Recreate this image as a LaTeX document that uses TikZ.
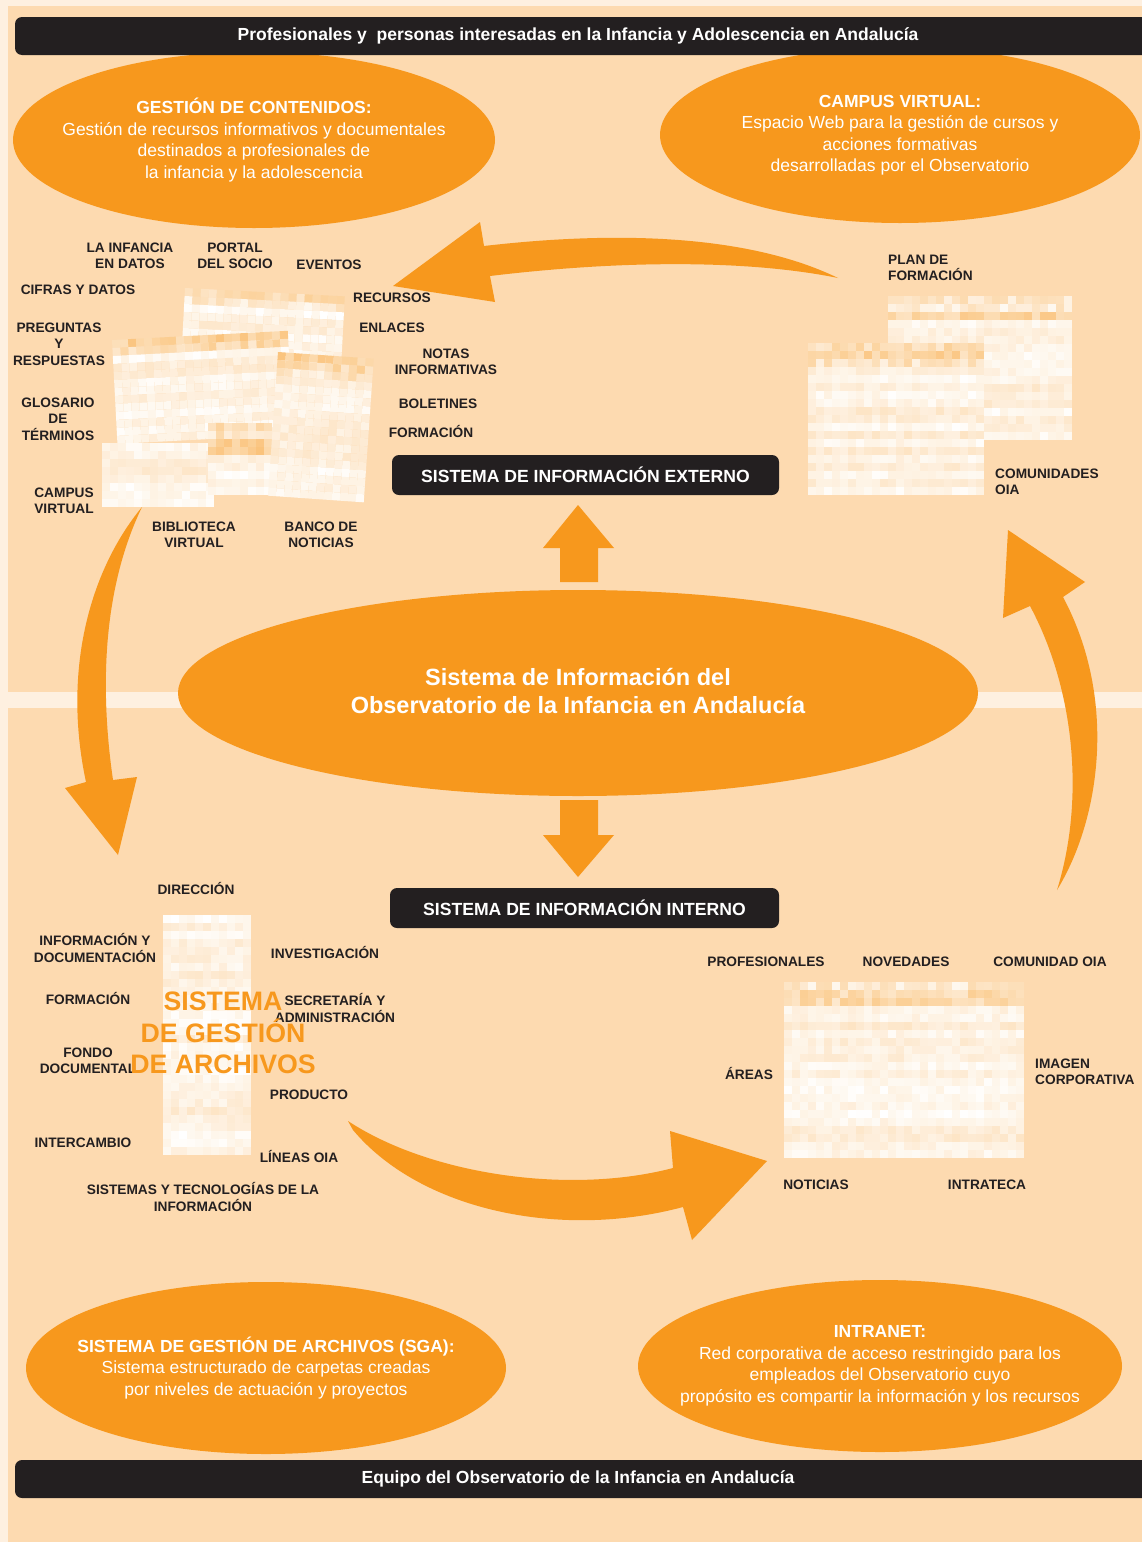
\documentclass[tikz,border=0pt]{standalone}
\usepackage{fontspec}
\setmainfont{Liberation Sans}
\usetikzlibrary{shapes.geometric}
\definecolor{oiaorange}{HTML}{F7981D}
\definecolor{oiapeach}{HTML}{FDDAB0}
\definecolor{oiacream}{HTML}{FEF0E0}
\definecolor{oiadark}{HTML}{231F20}
\tikzset{blob/.style={fill=oiaorange,draw=none}}
\tikzset{bigarrow/.style={fill=oiaorange,draw=none}}
\tikzset{darkbar/.style={fill=oiadark,rounded corners=7pt}}
\tikzset{bartext/.style={text=white,font=\bfseries\fontsize{17.5}{20}\selectfont,inner sep=0pt}}
\tikzset{darkbox/.style={fill=oiadark,rounded corners=7pt,text=white,minimum height=40pt,
    font=\bfseries\fontsize{17.6}{20}\selectfont,inner sep=0pt}}
\tikzset{blobtext/.style={text=white,align=center,inner sep=0pt,font=\fontsize{17.5}{21.5}\selectfont}}
\tikzset{lbl/.style={text=oiadark,align=center,inner sep=0pt,font=\bfseries\fontsize{13.7}{16.5}\selectfont}}
% pixelated web page thumbnail: corner, columns, rows, cell size, seed, header rows
\newcommand{\webshot}[6]{%
  \begin{scope}[shift={#1}]
    \pgfmathsetseed{#5}
    \foreach \j in {1,...,#3}{
      \pgfmathtruncatemacro{\tmax}{\j<=#6 ? 60 : 26}
      \pgfmathrandominteger{\rt}{0}{\tmax}
      \foreach \i in {1,...,#2}{
        \pgfmathrandominteger{\ct}{0}{\tmax}
        \pgfmathtruncatemacro{\t}{0.55*\rt+0.45*\ct}
        \fill[oiaorange!\t!white] ({(\i-1)*#4},{(\j-1)*#4}) rectangle ++(#4,#4);
      }}
  \end{scope}}

\begin{document}
\begin{tikzpicture}[x=1pt,y=-1pt]
  \useasboundingbox (0,0) rectangle (1142,1542);
  \clip (0,0) rectangle (1142,1542);
  % background and the two bands
  \fill[oiacream] (0,0) rectangle (1142,1542);
  \fill[oiapeach] (8,6) rectangle (1142,692);
  \fill[oiapeach] (8,708) rectangle (1142,1542);

  \coordinate (gc) at (254,140);
  \coordinate (cv) at (900,135);
  \coordinate (soia) at (578,693);
  \coordinate (sga) at (266,1368);
  \coordinate (intra) at (880,1366);

  \fill[blob] (gc) ellipse [x radius=241, y radius=88];
  \fill[blob] (cv) ellipse [x radius=240, y radius=88];
  \fill[blob] (soia) ellipse [x radius=400, y radius=103];
  \fill[blob] (sga) ellipse [x radius=240, y radius=86];
  \fill[blob] (intra) ellipse [x radius=242, y radius=86];

  \node[blobtext] (contenidos) at (gc) {\textbf{GESTIÓN DE CONTENIDOS:}\\Gestión de recursos informativos y documentales\\destinados a profesionales de\\la infancia y la adolescencia};
  \node[blobtext] (campusvirtual) at (cv) {\textbf{CAMPUS VIRTUAL:}\\Espacio Web para la gestión de cursos y\\acciones formativas\\desarrolladas por el Observatorio};
  \node[blobtext,font=\bfseries\fontsize{23.5}{28}\selectfont] (sistema) at (578,691) {Sistema de Información del\\Observatorio de la Infancia en Andalucía};
  \node[blobtext] (archivos) at (sga) {\textbf{SISTEMA DE GESTIÓN DE ARCHIVOS (SGA):}\\Sistema estructurado de carpetas creadas\\por niveles de actuación y proyectos};
  \node[blobtext] (intranet) at (intra) {\textbf{INTRANET:}\\Red corporativa de acceso restringido para los\\empleados del Observatorio cuyo\\propósito es compartir la información y los recursos};

  % top and bottom bars
  \fill[darkbar] (15,17) rectangle (1170,55);
  \node[bartext] (profesionales) at (578,36) {Profesionales y \ personas interesadas en la Infancia y Adolescencia en Andalucía};
  \fill[darkbar] (15,1460) rectangle (1170,1498);
  \node[bartext] (equipo) at (578,1479) {Equipo del Observatorio de la Infancia en Andalucía};

  % straight arrows
  \fill[bigarrow] (560,582) -- (560,548) -- (543,548) -- (578,505) -- (614,548) -- (598,548) -- (598,582) -- cycle;
  \fill[bigarrow] (560,800) -- (598,800) -- (598,835) -- (614,835) -- (578,877) -- (543,835) -- (560,835) -- cycle;
  % curved arrows
  \fill[bigarrow] (838,278) .. controls (760,240) and (640,228) .. (484,246) -- (480,222) -- (393,286)
    -- (495,302) -- (490,276) .. controls (640,258) and (760,262) .. (838,278) -- cycle;
  \fill[bigarrow] (142,507) .. controls (90,570) and (62,670) .. (86,782) -- (65,788) -- (118,855)
    -- (137,777) -- (113,780) .. controls (100,690) and (102,590) .. (142,507) -- cycle;
  \fill[bigarrow] (1057,890) .. controls (1100,820) and (1118,700) .. (1063,597) -- (1085,582) -- (1008,530)
    -- (1003,618) -- (1030,606) .. controls (1075,690) and (1085,800) .. (1057,890) -- cycle;
  \fill[bigarrow] (348,1121) .. controls (430,1175) and (570,1195) .. (673,1168) -- (670,1131) -- (767,1161)
    -- (692,1240) -- (683,1207) .. controls (560,1240) and (420,1210) .. (353,1130) -- cycle;

  % thumbnails
  \begin{scope}[shift={(185,288)},rotate=-3]\webshot{(0,0)}{20}{9}{8}{11}{2}\end{scope}
  \begin{scope}[shift={(112,340)},rotate=3]\webshot{(0,0)}{22}{13}{8}{12}{2}\end{scope}
  \webshot{(102,443)}{14}{8}{8}{13}{0}
  \webshot{(208,423)}{8}{9}{8}{14}{4}
  \begin{scope}[shift={(278,352)},rotate=-4]\webshot{(0,0)}{12}{18}{8}{15}{3}\end{scope}
  \webshot{(888,296)}{23}{18}{8}{16}{3}
  \webshot{(808,343)}{22}{19}{8}{17}{3}
  \webshot{(163,915)}{11}{30}{8}{18}{0}
  \webshot{(784,982)}{30}{22}{8}{19}{3}

  % labels, external system
  \node[lbl] (infancia) at (130,256) {LA INFANCIA\\EN DATOS};
  \node[lbl] (portal) at (235,256) {PORTAL\\DEL SOCIO};
  \node[lbl] (eventos) at (329,265) {EVENTOS};
  \node[lbl] (cifras) at (78,290) {CIFRAS Y DATOS};
  \node[lbl] (preguntas) at (59,344) {PREGUNTAS\\Y\\RESPUESTAS};
  \node[lbl] (glosario) at (58,419) {GLOSARIO\\DE\\TÉRMINOS};
  \node[lbl] (campus) at (64,501) {CAMPUS\\VIRTUAL};
  \node[lbl] (biblioteca) at (194,535) {BIBLIOTECA\\VIRTUAL};
  \node[lbl] (banco) at (321,535) {BANCO DE\\NOTICIAS};
  \node[lbl] (recursos) at (392,298) {RECURSOS};
  \node[lbl] (enlaces) at (392,328) {ENLACES};
  \node[lbl] (notas) at (446,362) {NOTAS\\INFORMATIVAS};
  \node[lbl] (boletines) at (438,404) {BOLETINES};
  \node[lbl] (formext) at (431,431) {FORMACIÓN};
  \node[lbl,anchor=west,align=left] (planform) at (888,268) {PLAN DE\\FORMACIÓN};
  \node[lbl,anchor=west,align=left] (comunidades) at (995,482) {COMUNIDADES\\OIA};

  % labels, internal system
  \node[lbl] (direccion) at (196,888) {DIRECCIÓN};
  \node[lbl] (infodoc) at (95,948) {INFORMACIÓN Y\\DOCUMENTACIÓN};
  \node[lbl] (formint) at (88,998) {FORMACIÓN};
  \node[lbl] (fondo) at (88,1061) {FONDO\\DOCUMENTAL};
  \node[lbl] (intercambio) at (83,1143) {INTERCAMBIO};
  \node[lbl] (investigacion) at (325,952) {INVESTIGACIÓN};
  \node[lbl] (secretaria) at (335,1008) {SECRETARÍA Y\\ADMINISTRACIÓN};
  \node[lbl] (producto) at (309,1095) {PRODUCTO};
  \node[lbl] (lineas) at (299,1156) {LÍNEAS OIA};
  \node[lbl] (sistemas) at (203,1197) {SISTEMAS Y TECNOLOGÍAS DE LA\\INFORMACIÓN};
  \node[lbl,text=oiaorange,font=\bfseries\fontsize{26.7}{31.5}\selectfont] (sgatitle) at (223,1033) {SISTEMA\\DE GESTIÓN\\DE ARCHIVOS};
  \node[lbl] (profes) at (766,962) {PROFESIONALES};
  \node[lbl] (novedades) at (906,962) {NOVEDADES};
  \node[lbl] (comunidad) at (1050,962) {COMUNIDAD OIA};
  \node[lbl] (areas) at (749,1073) {ÁREAS};
  \node[lbl,anchor=west,align=left] (imagen) at (1035,1072) {IMAGEN\\CORPORATIVA};
  \node[lbl] (noticias) at (816,1185) {NOTICIAS};
  \node[lbl] (intrateca) at (987,1185) {INTRATECA};

  % system boxes
  \node[darkbox,minimum width=387pt] (externo) at (585.5,475) {SISTEMA DE INFORMACIÓN EXTERNO};
  \node[darkbox,minimum width=389pt] (interno) at (584.5,908) {SISTEMA DE INFORMACIÓN INTERNO};
\end{tikzpicture}
\end{document}
